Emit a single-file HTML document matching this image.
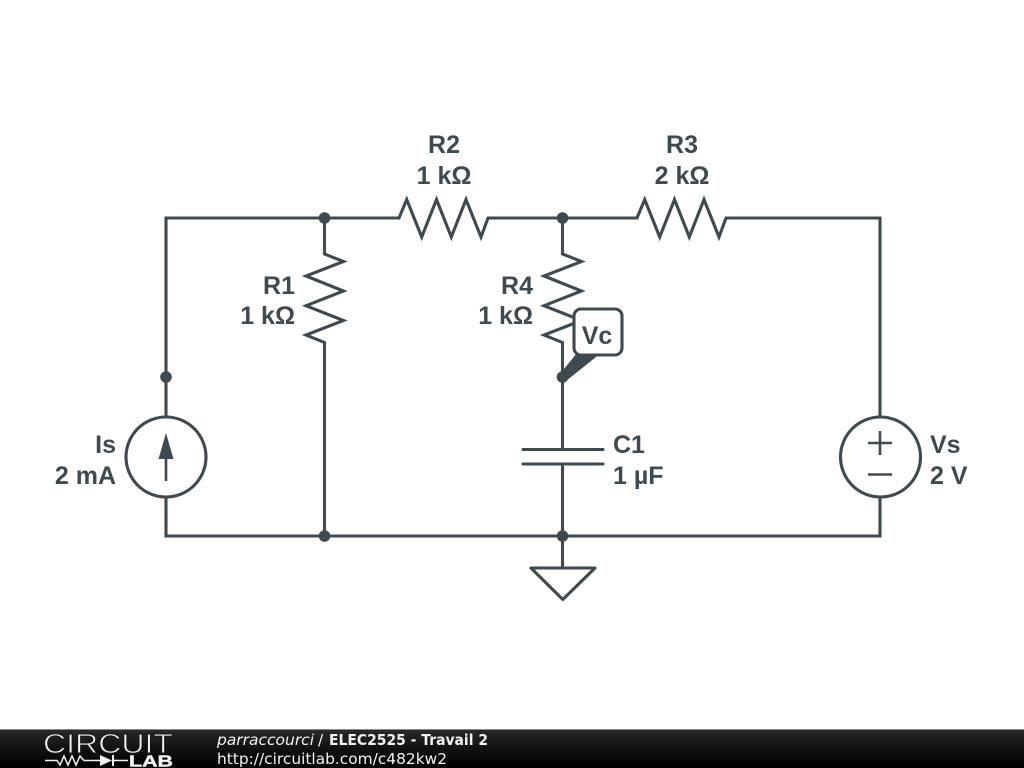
<!DOCTYPE html>
<html>
<head>
<meta charset="utf-8">
<style>
html,body{margin:0;padding:0;background:#fff;width:1024px;height:768px;overflow:hidden}
svg{display:block}
</style>
</head>
<body>
<svg width="1024" height="768" viewBox="0 0 1024 768" xmlns="http://www.w3.org/2000/svg">
<defs>
<linearGradient id="bar" x1="0" y1="0" x2="0" y2="1">
<stop offset="0" stop-color="#2a2a2a"/>
<stop offset="0.45" stop-color="#141414"/>
<stop offset="1" stop-color="#000"/>
</linearGradient>
</defs>
<rect width="1024" height="768" fill="#fff"/>
<g fill="none" stroke="#3f4a50" stroke-width="3.1" stroke-linejoin="miter" stroke-linecap="butt">
<!-- wires -->
<path d="M166 416V218H399L406.7 199.500L421.7 237L436.500 199.500L451.300 237L466 199.500L481 237L488 218H637L644.7 199.500L659.7 237L674.500 199.500L689.300 237L704 199.500L719 237L726 218H880V416"/>
<path d="M166 497V536H880V497"/>
<!-- R1 -->
<path d="M324.500 218V254L343.500 261.500L306 276L343.500 291L306 305.700L343.500 320.500L306 335L324.500 342.500V536"/>
<!-- R4 -->
<path d="M562.500 218V254L581.500 261.500L544 276L581.500 291L544 305.700L581.500 320.500L544 335L562.500 342.500V449"/>
<path d="M562.500 464V536"/>
<!-- C1 -->
<path d="M523 449.500H603M523 464H603" stroke-linecap="round"/>
<!-- Ground -->
<path d="M562.500 536V568"/>
<path d="M531 568H595L562.800 599.500Z" stroke-linejoin="round"/>
<!-- Sources -->
<circle cx="166" cy="457" r="40"/>
<circle cx="880.500" cy="457" r="40"/>
<path d="M166 481V455" stroke-width="2.600"/>
<path d="M868 443H892M880 431V455M868 474.500H892" stroke-width="2.600"/>
</g>
<path d="M166 433L173.500 459H158.500Z" fill="#3f4a50"/>
<g fill="#3f4a50">
<circle cx="166" cy="377" r="5.800"/>
<circle cx="324.500" cy="218" r="5.800"/>
<circle cx="562.500" cy="218" r="5.800"/>
<circle cx="562.500" cy="377" r="5.800"/>
<circle cx="324.500" cy="536" r="5.800"/>
<circle cx="562.500" cy="536" r="5.800"/>
<!-- probe pointer -->
<path d="M559 375L577 353H601L566 381Z"/>
</g>
<rect x="574" y="309" width="48" height="46" rx="7" ry="7" fill="#fff" stroke="#3f4a50" stroke-width="3.1"/>
<g font-family="'Liberation Sans',sans-serif" font-weight="700" font-size="25" fill="#3f4a50">
<text x="444" y="153" text-anchor="middle">R2</text>
<text x="444" y="184" text-anchor="middle">1 kΩ</text>
<text x="682" y="153" text-anchor="middle">R3</text>
<text x="682" y="184" text-anchor="middle">2 kΩ</text>
<text x="295" y="294" text-anchor="end">R1</text>
<text x="295" y="324" text-anchor="end">1 kΩ</text>
<text x="533" y="294" text-anchor="end">R4</text>
<text x="533" y="324" text-anchor="end">1 kΩ</text>
<text x="597" y="344" text-anchor="middle">Vc</text>
<text x="613" y="453">C1</text>
<text x="613" y="484">1 µF</text>
<text x="116" y="453" text-anchor="end">Is</text>
<text x="116" y="484" text-anchor="end">2 mA</text>
<text x="930" y="453">Vs</text>
<text x="930" y="484">2 V</text>
</g>
<!-- footer -->
<rect x="0" y="729" width="1024" height="39" fill="url(#bar)"/>
<rect x="0" y="729" width="1024" height="1" fill="#8a8a8a"/>
<text x="43" y="753" font-family="'Liberation Sans',sans-serif" font-size="28" fill="#f4f4f4" stroke="#1a1a1a" stroke-width="0.9" textLength="130" lengthAdjust="spacingAndGlyphs">CIRCUIT</text>
<g fill="none" stroke="#f0f0f0" stroke-width="1.500">
<path d="M45 760.500H57L60 765L64 756L68 765L72 756L76 765L80 756L84 760.500H100M114 760.500H128"/>
<path d="M113 755V766" stroke-width="2"/>
</g>
<path d="M100 755L112 760.500L100 766Z" fill="#f0f0f0"/>
<text x="129" y="766.500" font-family="'Liberation Sans',sans-serif" font-size="16" font-weight="700" fill="#f4f4f4" stroke="#f4f4f4" stroke-width="0.4" textLength="44" lengthAdjust="spacingAndGlyphs">LAB</text>
<g font-family="'DejaVu Sans',sans-serif" font-size="15.400" fill="#f2f2f2">
<text x="217" y="745" font-style="italic" textLength="97" lengthAdjust="spacingAndGlyphs">parraccourci</text>
<text x="318" y="745">/</text>
<text x="329" y="745" font-weight="700" textLength="159" lengthAdjust="spacingAndGlyphs">ELEC2525 - Travail 2</text>
<text x="217" y="764" textLength="230" lengthAdjust="spacingAndGlyphs">http://circuitlab.com/c482kw2</text>
</g>
</svg>
</body>
</html>
